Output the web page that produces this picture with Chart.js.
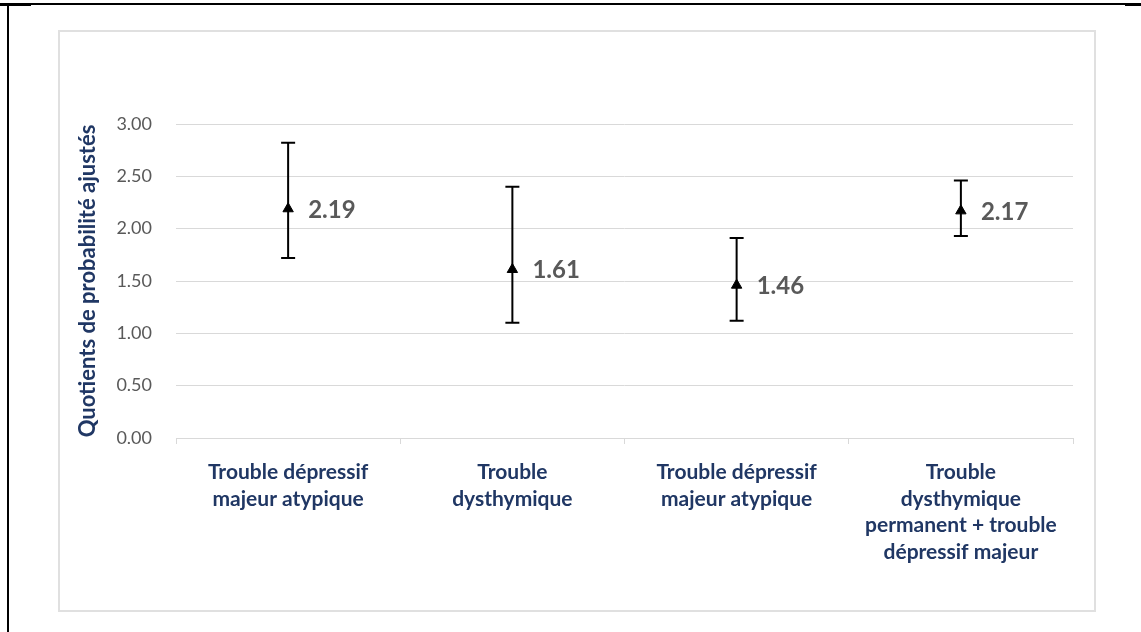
<!DOCTYPE html>
<html>
<head>
<meta charset="utf-8">
<script src="https://cdn.jsdelivr.net/npm/chart.js@4.4.0/dist/chart.umd.min.js"></script>
<style>
    body { margin: 0; background: #fff; }
    #wrap { position: relative; width: 1141px; height: 632px; overflow: hidden; }
    #frame-top { position: absolute; left: 7px; top: 3px; width: 1134px; height: 2px; background: #000; }
    #frame-left { position: absolute; left: 7px; top: 3px; width: 2px; height: 629px; background: #000; }
    #seg-l { position: absolute; left: 0; top: 3px; width: 31px; height: 3px; background: #000; }
    #seg-r { position: absolute; left: 1125px; top: 3px; width: 16px; height: 3px; background: #000; }
    #box { position: absolute; left: 58px; top: 30px; width: 1034px; height: 578px; border: 2px solid #e0e0e0; }
    canvas { position: absolute; left: 0; top: 0; }
</style>
</head>
<body>
<div id="wrap">
    <div id="frame-top"></div>
    <div id="frame-left"></div>
    <div id="seg-l"></div>
    <div id="seg-r"></div>
    <div id="box"></div>
    <canvas id="my-chart" width="1141" height="632"></canvas>
</div>
<script>
// * Adjusted odds ratios with confidence intervals

const categories = [
    ['Trouble dépressif', 'majeur atypique'],
    ['Trouble', 'dysthymique'],
    ['Trouble dépressif', 'majeur atypique'],
    ['Trouble', 'dysthymique', 'permanent + trouble', 'dépressif majeur']
]
const oddsRatios = [2.19, 1.61, 1.46, 2.17]
const ciLow = [1.72, 1.10, 1.12, 1.93]
const ciHigh = [2.82, 2.40, 1.91, 2.46]
const yTicks = [0, 0.5, 1, 1.5, 2, 2.5, 3]

const navy = '#203764'
const grey = '#595959'
const ctx = document.getElementById('my-chart')

// error bars drawn under the markers
const errorBars = {
    id: 'errorBars',
    beforeDatasetsDraw(chart) {
        const c = chart.ctx
        const y = chart.scales.y
        const meta = chart.getDatasetMeta(0)
        c.save()
        c.strokeStyle = '#000'
        c.lineWidth = 2
        meta.data.forEach((pt, i) => {
            const top = y.getPixelForValue(ciHigh[i])
            const bottom = y.getPixelForValue(ciLow[i])
            c.beginPath()
            c.moveTo(pt.x, top)
            c.lineTo(pt.x, bottom)
            c.moveTo(pt.x - 7, top)
            c.lineTo(pt.x + 7, top)
            c.moveTo(pt.x - 7, bottom)
            c.lineTo(pt.x + 7, bottom)
            c.stroke()
        })
        c.restore()
    },
    afterDatasetsDraw(chart) {
        const c = chart.ctx
        const meta = chart.getDatasetMeta(0)
        c.save()
        c.font = 'bold 24px Lato'
        c.fillStyle = grey
        c.textAlign = 'left'
        c.textBaseline = 'middle'
        meta.data.forEach((pt, i) => {
            c.fillText(oddsRatios[i].toFixed(2), pt.x + 20, pt.y + 1)
        })
        c.restore()
    }
}

new Chart(ctx, {
    type: 'line',
    data: {
        labels: categories,
        datasets: [
            {
                data: oddsRatios,
                showLine: false,
                pointStyle: 'triangle',
                pointRadius: 6,
                pointBackgroundColor: '#000',
                pointBorderColor: '#000',
                pointBorderWidth: 1
            }
        ]
    },
    options: {
        responsive: false,
        animation: false,
        layout: {
            padding: { left: 70, top: 124, right: 68, bottom: 0 }
        },
        plugins: {
            legend: { display: false },
            tooltip: { enabled: false }
        },
        scales: {
            x: {
                offset: true,
                afterFit: (scale) => { scale.height = 194 },
                grid: {
                    offset: true,
                    drawOnChartArea: false,
                    drawTicks: true,
                    tickLength: 6,
                    color: '#d9d9d9'
                },
                border: { display: true, color: '#d9d9d9', width: 1 },
                ticks: {
                    color: navy,
                    padding: 15,
                    maxRotation: 0,
                    autoSkip: false,
                    font: { family: 'Lato', weight: 'bold', size: 21, lineHeight: 1.27 }
                }
            },
            y: {
                min: 0,
                max: 3,
                afterFit: (scale) => { scale.width = 106 },
                afterBuildTicks: (scale) => {
                    scale.ticks = yTicks.map((v) => ({ value: v }))
                },
                grid: { drawTicks: false, color: '#d9d9d9' },
                border: { display: false },
                ticks: {
                    color: grey,
                    padding: 24,
                    callback: (v) => Number(v).toFixed(2),
                    font: { family: 'Lato', size: 18 }
                },
                title: {
                    display: true,
                    text: 'Quotients de probabilité ajustés',
                    color: navy,
                    padding: { top: 5, bottom: 0 },
                    font: { family: 'Lato', weight: 'bold', size: 22 }
                }
            }
        }
    },
    plugins: [errorBars]
})
</script>
</body>
</html>
